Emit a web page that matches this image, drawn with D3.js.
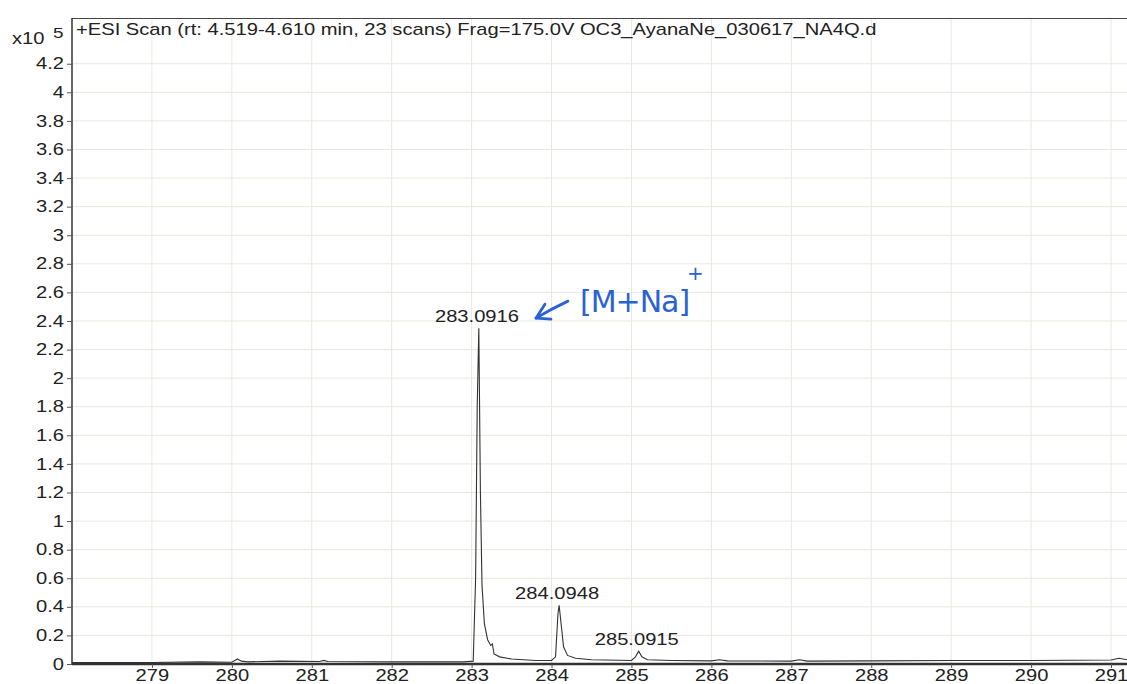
<!DOCTYPE html>
<html><head><meta charset="utf-8">
<script src="https://cdn.jsdelivr.net/npm/d3@7/dist/d3.min.js"></script>
<style>body{margin:0;background:#fff;}svg{display:block;font-family:"Liberation Sans",Arial,sans-serif;}</style>
</head><body>
<svg id="c" width="1127" height="684"></svg>
<script>
const titleText = "+ESI Scan (rt: 4.519-4.610 min, 23 scans) Frag=175.0V OC3_AyanaNe_030617_NA4Q.d";
const xTicks = [279,280,281,282,283,284,285,286,287,288,289,290,291];
const yTicks = [0,0.2,0.4,0.6,0.8,1,1.2,1.4,1.6,1.8,2,2.2,2.4,2.6,2.8,3,3.2,3.4,3.6,3.8,4,4.2];
const mz = [278.0,279.0,279.6,280.0,280.07,280.12,280.2,280.6,281.1,281.15,281.2,282.0,282.9,283.02,283.05,283.07,283.09,283.11,283.13,283.16,283.2,283.24,283.26,283.28,283.35,283.5,283.8,284.0,284.05,284.08,284.095,284.12,284.15,284.2,284.3,284.5,285.0,285.05,285.09,285.13,285.2,285.5,286.0,286.1,286.2,287.0,287.1,287.2,288.0,289.0,290.0,291.0,291.1,291.2];
const intensity = [0.01,0.01,0.015,0.012,0.035,0.02,0.015,0.02,0.018,0.025,0.018,0.015,0.015,0.02,0.6,1.8,2.35,1.2,0.55,0.28,0.17,0.13,0.14,0.07,0.05,0.035,0.025,0.025,0.05,0.35,0.41,0.28,0.12,0.06,0.04,0.03,0.025,0.05,0.09,0.05,0.03,0.025,0.022,0.03,0.022,0.02,0.03,0.02,0.022,0.025,0.025,0.028,0.04,0.03];
const peakLabels = ["283.0916","284.0948","285.0915"];
const peakMz = [283.0916,284.0948,285.0915];
const peakInt = [2.35,0.41,0.09];
const annotation = "[M+Na]";

const SX = 1.26; // horizontal stretch of the printed font
const svg = d3.select("#c");
const x = d3.scaleLinear().domain([278, 291.2]).range([72, 1127]);
const y = d3.scaleLinear().domain([0, 4.52]).range([664, 18]);

function stretch(sel){
  sel.each(function(){
    const t = d3.select(this);
    const xv = +(t.attr("x") || 0);
    t.attr("x", xv / SX).attr("transform", `scale(${SX},1)`);
  });
}

// grid
svg.append("g").selectAll("line").data(yTicks.slice(1)).join("line")
  .attr("x1", 72).attr("x2", 1127).attr("y1", d=>y(d)).attr("y2", d=>y(d))
  .attr("stroke", "#e8e8e2").attr("stroke-width", 1);
svg.append("g").selectAll("line").data(xTicks).join("line")
  .attr("x1", d=>x(d)).attr("x2", d=>x(d)).attr("y1", 18).attr("y2", 664)
  .attr("stroke", "#e8e8e2").attr("stroke-width", 1);

// frame top
svg.append("line").attr("x1", 72).attr("x2", 1127).attr("y1", 18.5).attr("y2", 18.5)
  .attr("stroke", "#444").attr("stroke-width", 1.2);

// axes
const yAxis = d3.axisLeft(y).tickValues(yTicks).tickSize(5).tickPadding(3)
  .tickFormat(d => String(+d.toFixed(1)));
const gy = svg.append("g").attr("transform", "translate(72,0)").call(yAxis);
gy.select(".domain").attr("stroke", "#333").attr("stroke-width", 1.5).attr("d", "M0,18V664");
gy.selectAll("text").attr("font-size", 16).attr("fill", "#222").call(stretch);
gy.selectAll(".tick line").attr("stroke", "#555");

const xAxis = d3.axisBottom(x).tickValues(xTicks).tickSize(4).tickPadding(2).tickFormat(d3.format("d"));
const gx = svg.append("g").attr("transform", "translate(0,664)").call(xAxis);
gx.select(".domain").attr("stroke", "#333").attr("stroke-width", 2.5).attr("d", "M72,0H1127");
gx.selectAll("text").attr("font-size", 16).attr("fill", "#222").call(stretch);
gx.selectAll(".tick line").attr("stroke", "#555");

// y exponent label
svg.append("text").attr("x", 12).attr("y", 44).attr("font-size", 16).attr("fill", "#222").text("x10").call(stretch);
svg.append("text").attr("x", 53).attr("y", 38).attr("font-size", 15).attr("fill", "#222").text("5").call(stretch);

// title
svg.append("text").attr("x", 76).attr("y", 35).attr("font-size", 16).attr("fill", "#222").text(titleText).call(stretch);

// spectrum
const pts = mz.map((m,i)=>[m,intensity[i]]);
svg.append("path").datum(pts)
  .attr("d", d3.line().x(d=>x(d[0])).y(d=>y(d[1])))
  .attr("fill", "none").attr("stroke", "#333").attr("stroke-width", 1.1);

// peak labels
svg.append("g").selectAll("text").data(peakLabels).join("text")
  .attr("x", (d,i)=>x(peakMz[i]) - 2)
  .attr("y", (d,i)=>y(peakInt[i]) - 6)
  .attr("text-anchor", "middle").attr("font-size", 16).attr("fill", "#222")
  .text(d=>d).call(stretch);

// handwritten annotation
const blue = "#2a62d6";
const ax0 = x(peakMz[0]) + 57, ay0 = y(peakInt[0]) - 10;
svg.append("path")
  .attr("d", `M${ax0+32},${ay0-17} Q${ax0+15},${ay0-9} ${ax0},${ay0}`)
  .attr("fill","none").attr("stroke", blue).attr("stroke-width", 2.8).attr("stroke-linecap","round");
svg.append("path")
  .attr("d", `M${ax0+9},${ay0-14} L${ax0},${ay0} L${ax0+15},${ay0+1}`)
  .attr("fill","none").attr("stroke", blue).attr("stroke-width", 2.8).attr("stroke-linecap","round").attr("stroke-linejoin","round");
svg.append("text").attr("x", ax0+44).attr("y", ay0-6)
  .attr("font-size", 30).attr("fill", blue)
  .attr("font-family", "'DejaVu Sans', sans-serif").attr("letter-spacing", -1)
  .text(annotation);
svg.append("text").attr("x", ax0+151).attr("y", ay0-38)
  .attr("font-size", 20).attr("fill", blue).attr("font-family","'DejaVu Sans', sans-serif").text("+");
</script>
</body></html>
